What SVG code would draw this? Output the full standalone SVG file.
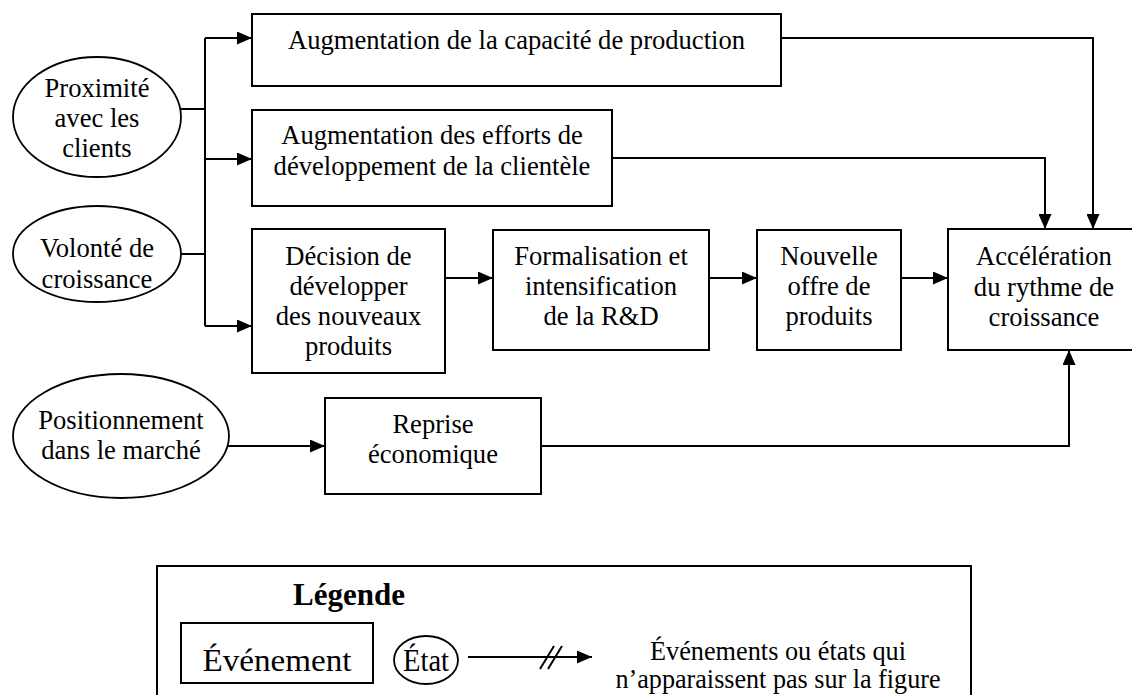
<svg xmlns="http://www.w3.org/2000/svg" width="1132" height="695" viewBox="0 0 1132 695">
  <defs>
    <marker id="arrow" viewBox="0 0 15 13" refX="15" refY="6.5" markerWidth="15" markerHeight="13" markerUnits="userSpaceOnUse" orient="auto">
      <path d="M0,0 L15,6.5 L0,13 z" fill="#000"/>
    </marker>
    <style>
      .box { fill: #fff; stroke: #000; stroke-width: 2; }
      .ell { fill: #fff; stroke: #000; stroke-width: 1.8; }
      .t { font-family: "Liberation Serif", "Times New Roman", serif; font-size: 26.6px; text-anchor: middle; fill: #000; }
      .lt { font-family: "Liberation Serif", "Times New Roman", serif; font-size: 32px; text-anchor: middle; fill: #000; }
      .lt2 { font-family: "Liberation Serif", "Times New Roman", serif; font-size: 27px; text-anchor: middle; fill: #000; }
      .ln { fill: none; stroke: #000; stroke-width: 2; }
      .arr { marker-end: url(#arrow); }
    </style>
  </defs>
  <rect width="1132" height="695" fill="#fff"/>

  <!-- connectors -->
  <g id="connectors">
    <path class="ln" d="M180,109 H205 M181,254 H205 M205,38 V326"/>
    <path class="ln arr" d="M205,38 H252"/>
    <path class="ln arr" d="M205,159 H252"/>
    <path class="ln arr" d="M205,326 H252"/>
    <path class="ln arr" d="M781,38 H1093 V229"/>
    <path class="ln arr" d="M612,158 H1045 V229"/>
    <path class="ln arr" d="M445,278 H493"/>
    <path class="ln arr" d="M709,278 H757"/>
    <path class="ln arr" d="M901,278 H948"/>
    <path class="ln arr" d="M228,446 H325"/>
    <path class="ln arr" d="M541,446 H1069 V350"/>
  </g>

  <!-- states (ellipses) -->
  <g id="proximite">
    <ellipse class="ell" cx="97" cy="117" rx="84" ry="60"/>
    <text class="t" x="97" y="97">Proximité</text>
    <text class="t" x="97" y="127">avec les</text>
    <text class="t" x="97" y="157">clients</text>
  </g>
  <g id="volonte">
    <ellipse class="ell" cx="97" cy="254" rx="84" ry="48"/>
    <text class="t" x="97" y="257">Volonté de</text>
    <text class="t" x="97" y="288">croissance</text>
  </g>
  <g id="positionnement">
    <ellipse class="ell" cx="121" cy="436" rx="108" ry="62"/>
    <text class="t" x="121" y="429">Positionnement</text>
    <text class="t" x="121" y="459">dans le marché</text>
  </g>

  <!-- events (boxes) -->
  <g id="capacite">
    <rect class="box" x="252" y="14" width="529" height="72"/>
    <text class="t" x="516.5" y="49">Augmentation de la capacité de production</text>
  </g>
  <g id="efforts">
    <rect class="box" x="252" y="110" width="360" height="96"/>
    <text class="t" x="432" y="144">Augmentation des efforts de</text>
    <text class="t" x="432" y="175">développement de la clientèle</text>
  </g>
  <g id="decision">
    <rect class="box" x="252" y="229" width="193" height="144"/>
    <text class="t" x="348.5" y="265">Décision de</text>
    <text class="t" x="348.5" y="295">développer</text>
    <text class="t" x="348.5" y="325">des nouveaux</text>
    <text class="t" x="348.5" y="355">produits</text>
  </g>
  <g id="formalisation">
    <rect class="box" x="493" y="230" width="216" height="120"/>
    <text class="t" x="601" y="265">Formalisation et</text>
    <text class="t" x="601" y="295">intensification</text>
    <text class="t" x="601" y="325">de la R&amp;D</text>
  </g>
  <g id="nouvelle-offre">
    <rect class="box" x="757" y="230" width="144" height="120"/>
    <text class="t" x="829" y="265">Nouvelle</text>
    <text class="t" x="829" y="295">offre de</text>
    <text class="t" x="829" y="325">produits</text>
  </g>
  <g id="acceleration">
    <rect class="box" x="948" y="229" width="192" height="121"/>
    <text class="t" x="1044" y="265">Accélération</text>
    <text class="t" x="1044" y="296">du rythme de</text>
    <text class="t" x="1044" y="326">croissance</text>
  </g>
  <g id="reprise">
    <rect class="box" x="325" y="398" width="216" height="96"/>
    <text class="t" x="433" y="433">Reprise</text>
    <text class="t" x="433" y="463">économique</text>
  </g>

  <!-- legend -->
  <g id="legende">
    <rect class="box" x="157" y="566" width="814" height="140"/>
    <text x="293" y="605" font-family="Liberation Serif, Times New Roman, serif" font-size="31" font-weight="bold" fill="#000">Légende</text>
    <rect class="box" x="181" y="623" width="192" height="60"/>
    <text class="lt" x="277" y="671" textLength="149" lengthAdjust="spacingAndGlyphs">Événement</text>
    <ellipse class="ell" cx="426" cy="660" rx="32" ry="24"/>
    <text class="lt" x="426" y="671" textLength="46" lengthAdjust="spacingAndGlyphs">État</text>
    <path class="ln arr" d="M468,657 H592"/>
    <path class="ln" d="M540,669 L554,646 M548,669 L562,646" stroke-width="1.5"/>
    <text class="lt2" x="778" y="660" textLength="256" lengthAdjust="spacingAndGlyphs">Événements ou états qui</text>
    <text class="lt2" x="778" y="688" textLength="325" lengthAdjust="spacingAndGlyphs">n’apparaissent pas sur la figure</text>
  </g>
</svg>
